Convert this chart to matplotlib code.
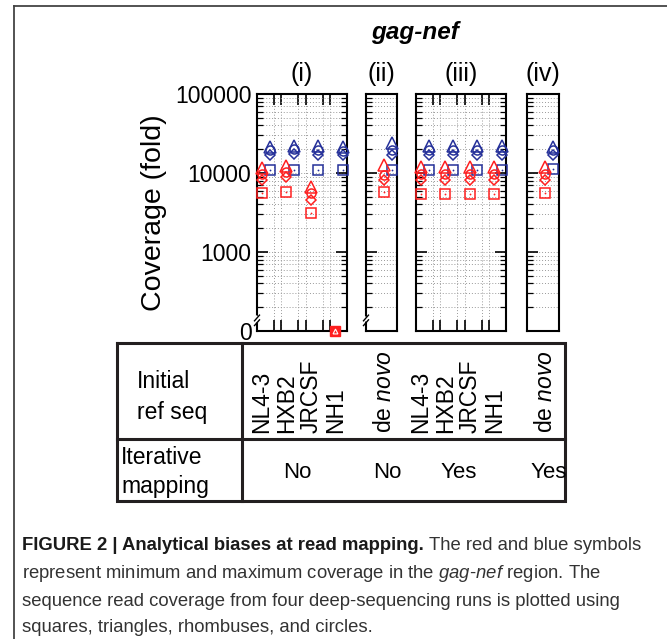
import matplotlib
matplotlib.use('Agg')
import matplotlib.pyplot as plt
import matplotlib.transforms as mtransforms
from matplotlib.ticker import FixedLocator, LogLocator, NullFormatter, FixedFormatter
import numpy as np

plt.rcParams['font.family'] = ['Liberation Sans', 'DejaVu Sans']
plt.rcParams['mathtext.fontset'] = 'custom'
plt.rcParams['mathtext.rm'] = 'Liberation Sans'
plt.rcParams['mathtext.it'] = 'Liberation Sans:italic'
plt.rcParams['mathtext.bf'] = 'Liberation Sans:bold'

RED = '#ff1f1f'
BLUE = '#26319a'
INK = '#231f20'

# four deep-sequencing runs: square, triangle, rhombus, circle
run_markers = ['s', '^', 'D', 'o']
run_sizes = [7.0, 8.0, 5.5, 6.5]

panel_names = ['(i)', '(ii)', '(iii)', '(iv)']
refs_multi = ['NL4-3', 'HXB2', 'JRCSF', 'NH1']
refs_denovo = [r'de $\mathit{novo}$']
iterative = ['No', 'No', 'Yes', 'Yes']

# rows = runs (square, triangle, rhombus, circle), columns = reference
min_i = [[5600, 5800, 3100, 0],
         [11500, 12300, 6700, 0],
         [8200, 9000, 4550, 0],
         [9700, 10400, 5600, 0]]
max_i = [[11000, 11000, 11000, 11000],
         [21500, 22000, 22000, 21500],
         [17000, 17500, 17000, 17000],
         [19500, 20000, 19500, 19000]]

min_ii = [[5800], [12600], [8100], [9400]]
max_ii = [[11000], [24000], [17000], [19500]]

min_iii = [[5400, 5400, 5400, 5400],
           [12000, 12000, 12000, 12000],
           [8100, 8100, 8100, 8100],
           [9700, 9700, 9700, 9700]]
max_iii = [[11000, 11000, 11000, 11000],
           [22000, 22000, 22000, 22000],
           [17000, 17000, 17000, 17000],
           [19500, 19500, 19500, 19500]]

min_iv = [[5600], [12000], [8100], [9700]]
max_iv = [[11200], [21500], [17000], [19500]]

panels = [(refs_multi, min_i, max_i),
          (refs_denovo, min_ii, max_ii),
          (refs_multi, min_iii, max_iii),
          (refs_denovo, min_iv, max_iv)]

W, H = 667, 639
fig = plt.figure(figsize=(W / 100, H / 100), dpi=100)

# overlay in pixel coordinates for frame, table and caption
ov = fig.add_axes([0, 0, 1, 1])
ov.set_xlim(0, W)
ov.set_ylim(H, 0)
ov.axis('off')

# outer frame
ov.plot([14, W], [6, 6], color='#444444', lw=1.3)
ov.plot([14, 14], [6, H], color='#444444', lw=1.3)

boxes = [(257, 347), (366, 397), (416, 506), (527, 559)]
top_px, bot_px = 94, 331

axes = []
for k, ((refs, mins, maxs), (x0, x1)) in enumerate(zip(panels, boxes)):
    ax = fig.add_axes([x0 / W, (H - bot_px) / H, (x1 - x0) / W, (bot_px - top_px) / H])
    axes.append(ax)
    multi = len(refs) > 1
    n = len(refs)
    ax.set_yscale('log')
    ax.set_ylim(100, 1e5)
    if multi:
        ax.set_xlim(0, 3.69)
        centers = np.arange(n) + 0.36
    else:
        ax.set_xlim(0, 1.3)
        centers = np.arange(n) + 0.91

    for r, (m, s) in enumerate(zip(run_markers, run_sizes)):
        lo = np.array(mins[r], dtype=float)
        hi = np.array(maxs[r], dtype=float)
        for vals, col, dx in [(hi, BLUE, 0.16), (lo, RED, -0.16)]:
            zero = vals == 0
            yv = np.where(zero, 100, vals)
            xv = centers + dx
            ax.plot(xv[~zero], yv[~zero], ls='none', marker=m, ms=s, mfc='none',
                    mec=col, mew=1.1, clip_on=False, zorder=5)
            if zero.any() and m == 's':
                # zero coverage: all runs collapse onto the broken-axis floor
                ax.plot(xv[zero], yv[zero], ls='none', marker='s', ms=7.5, mfc=col,
                        mec=col, mew=1.0, clip_on=False, zorder=6)
                ax.plot(xv[zero], yv[zero], ls='none', marker='^', ms=3.5, mfc='none',
                        mec='white', mew=0.8, clip_on=False, zorder=7)
            if m == 's':
                ax.plot(xv[~zero], yv[~zero], ls='none', marker='o', ms=1.3,
                        mfc=col, mec=col, mew=0, zorder=6)

    ax.yaxis.set_major_locator(FixedLocator([100, 1000, 1e4, 1e5]))
    ax.yaxis.set_minor_locator(LogLocator(base=10, subs=np.arange(2, 10)))
    ax.yaxis.set_minor_formatter(NullFormatter())
    if k == 0:
        ax.yaxis.set_major_formatter(FixedFormatter(['0', '1000', '10000', '100000']))
    else:
        ax.yaxis.set_major_formatter(NullFormatter())
    ax.tick_params(axis='y', which='major', direction='in', length=8, width=1.2,
                   left=True, right=multi, labelsize=16.5, pad=4, colors='black')
    ax.tick_params(axis='y', which='minor', direction='in', length=4, width=0.9,
                   left=True, right=multi)
    if multi:
        ax.set_xticks([0.7, 1.0, 1.7, 2.0, 2.7, 3.0])
        ax.tick_params(axis='x', which='major', direction='in', length=8, width=1.2,
                       top=True, bottom=True, labelbottom=False)
        ax.grid(True, which='major', axis='x', ls=(0, (1, 2)), color='#9a9a9a', lw=0.7)
    else:
        ax.set_xticks([])
    ax.grid(True, which='both', axis='y', ls=(0, (1, 2)), color='#9a9a9a', lw=0.7)
    for sp in ax.spines.values():
        sp.set_linewidth(1.5)
    ax.set_title(panel_names[k], fontsize=18, pad=9)

    # axis break on left spine
    if k in (0, 1):
        ax.plot([-0.02, 0.02], [0.04, 0.06], transform=ax.transAxes, color='white',
                lw=4, clip_on=False, zorder=7, solid_capstyle='butt')
        dx = 0.08 * 31 / (x1 - x0)
        for yy in (0.035, 0.055):
            ax.plot([-dx, dx], [yy - 0.012, yy + 0.012], transform=ax.transAxes,
                    color='black', lw=1.0, clip_on=False, zorder=8)

    # reference labels in table
    tr = mtransforms.blended_transform_factory(ax.transData, ov.transData)
    for c, name in zip(centers - 0.15, refs):
        ov.text(c, 433, name, rotation=90, ha='center', va='bottom', fontsize=16.5,
                transform=tr)
    trm = mtransforms.blended_transform_factory(ax.transAxes, ov.transData)
    ov.text(0.45 if k == 0 else (0.48 if multi else 0.68), 472, iterative[k],
            ha='center', va='center', fontsize=16, transform=trm)

axes[0].set_ylabel('Coverage (fold)', fontsize=20.5, labelpad=6)

fig.text(415 / W, 1 - 33 / H, 'gag-nef', fontsize=17.5, fontweight='bold',
         fontstyle='italic', ha='center', va='center')

# table
ov.plot([117, 565, 565, 117, 117], [343, 343, 501, 501, 343], color=INK, lw=2.2,
        solid_joinstyle='miter')
ov.plot([242, 242], [343, 501], color=INK, lw=2.2)
ov.plot([117, 565], [439, 439], color=INK, lw=2.2)
ov.text(137, 382, 'Initial', fontsize=16.5, va='center', ha='left')
ov.text(137, 412, 'ref seq', fontsize=16.5, va='center', ha='left')
ov.text(121, 458, 'Iterative', fontsize=16.5, va='center', ha='left')
ov.text(121, 487, 'mapping', fontsize=16.5, va='center', ha='left')

# caption
cap = 13.3
t1 = ov.text(22, 546, 'FIGURE 2 | Analytical biases at read mapping.', fontsize=cap,
             fontweight='bold', color='#1a1a1a', va='center', ha='left')
ov.annotate('The red and blue symbols', xy=(1, 0.5), xycoords=t1, xytext=(4, 0),
            textcoords='offset points', va='center', ha='left', fontsize=cap,
            color='#333333')
ov.text(22, 573, r'represent minimum and maximum coverage in the $\mathit{gag}$-$\mathit{nef}$ region. The',
        fontsize=cap, color='#333333', va='center', ha='left')
ov.text(22, 601, 'sequence read coverage from four deep-sequencing runs is plotted using',
        fontsize=cap, color='#333333', va='center', ha='left')
ov.text(22, 628, 'squares, triangles, rhombuses, and circles.',
        fontsize=cap, color='#333333', va='center', ha='left')

fig.savefig('out.png', dpi=100)
